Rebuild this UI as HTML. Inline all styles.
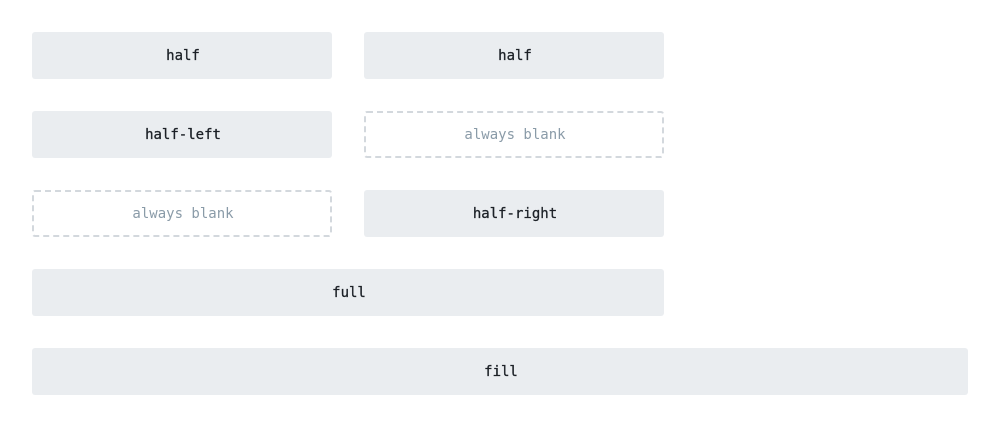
<!DOCTYPE html>
<html><head><style>
body{margin:0;width:1000px;height:427px;background:#fff;position:relative;font-family:"DejaVu Sans Mono","Liberation Mono",monospace;}
.b{position:absolute;height:47px;background:#eaedf0;border-radius:3px;display:flex;align-items:center;justify-content:center;font-size:14px;color:#1c2127;padding-top:1px;padding-left:2px;box-sizing:border-box;-webkit-text-stroke:0.3px #1c2127;}
.d{background:#fff;border:2px dashed #d3d8dd;color:#8a9ba8;-webkit-text-stroke:0;}
</style></head><body>
<div class="b" style="left:32px;top:32px;width:300px">half</div>
<div class="b" style="left:364px;top:32px;width:300px">half</div>
<div class="b" style="left:32px;top:111px;width:300px">half-left</div>
<div class="b d" style="left:364px;top:111px;width:300px">always blank</div>
<div class="b d" style="left:32px;top:190px;width:300px">always blank</div>
<div class="b" style="left:364px;top:190px;width:300px">half-right</div>
<div class="b" style="left:32px;top:269px;width:632px">full</div>
<div class="b" style="left:32px;top:348px;width:936px">fill</div>
</body></html>
